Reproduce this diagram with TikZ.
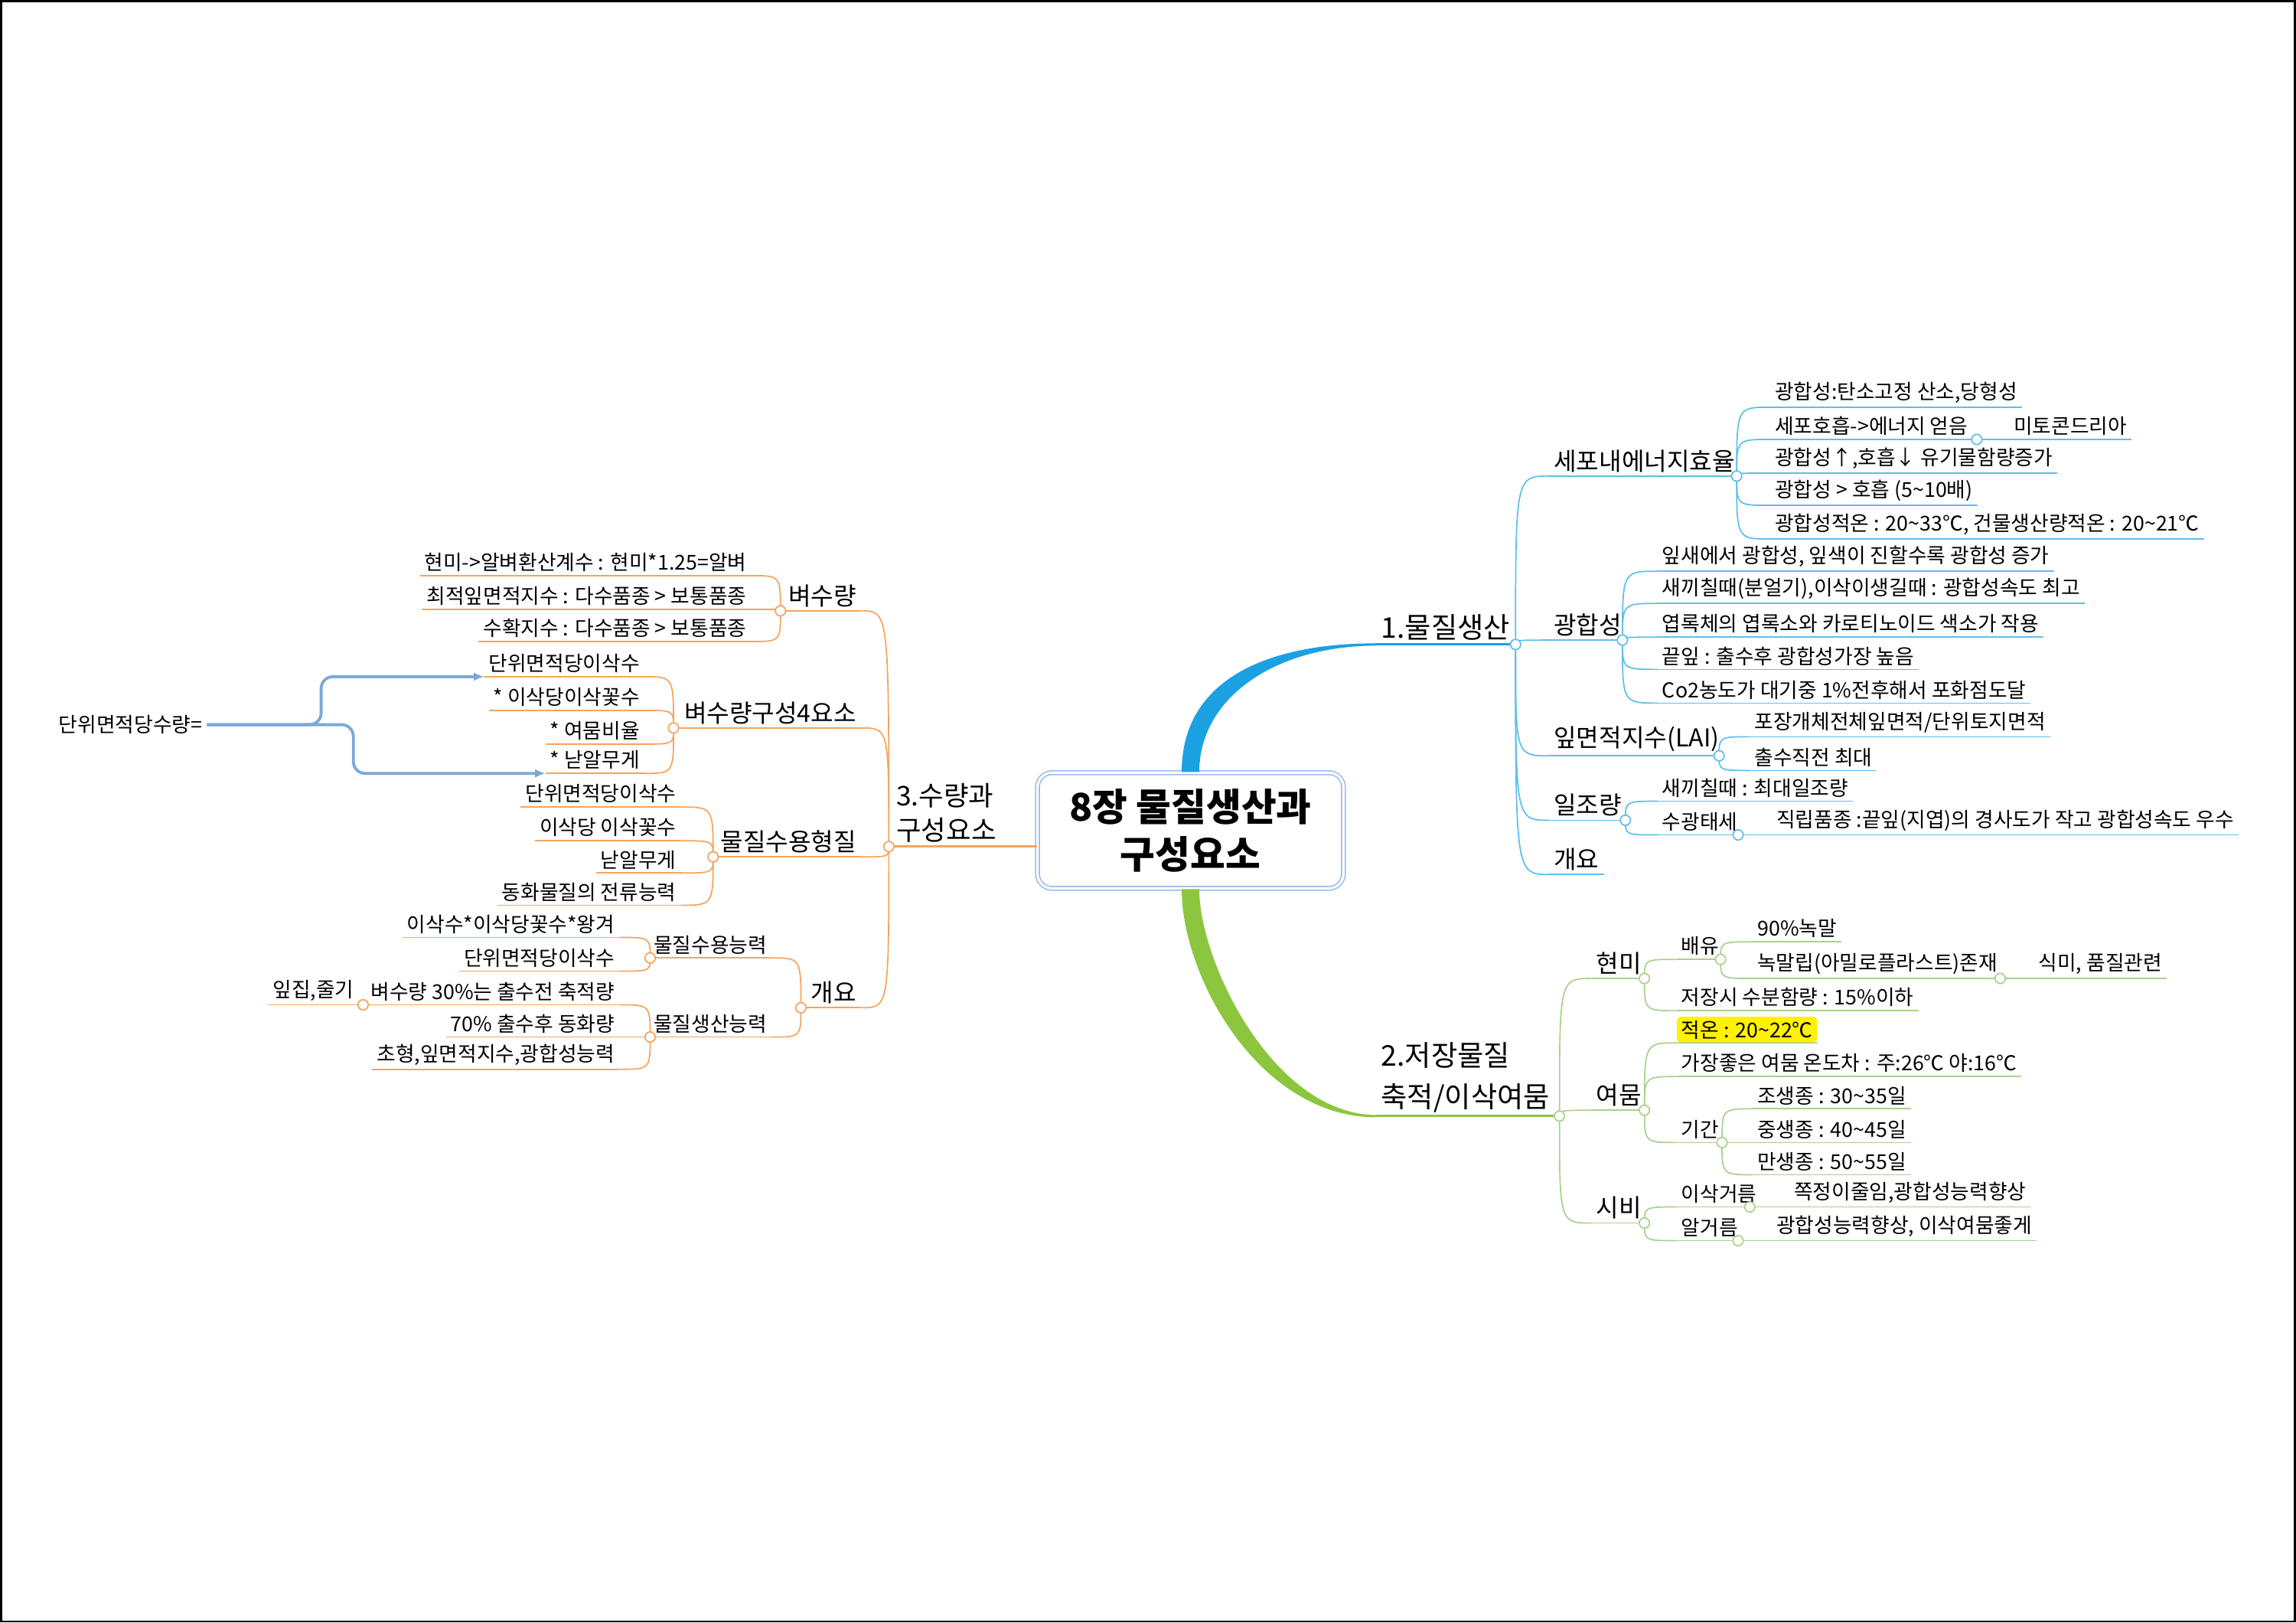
\documentclass[tikz,border=0pt]{standalone}
\usepackage{fontspec}
\setmainfont{Noto Sans CJK KR}
\usetikzlibrary{calc,arrows.meta}
\definecolor{blueA}{HTML}{1BA1E2}
\definecolor{blueL}{HTML}{5DBFEA}
\definecolor{greenA}{HTML}{8CC63F}
\definecolor{greenL}{HTML}{A9D18E}
\definecolor{orangeL}{HTML}{F5A45D}
\definecolor{arrowB}{HTML}{7DA7D9}
\definecolor{frameB}{HTML}{9CBFE8}
\tikzset{
  leaf/.style={font=\fontsize{14}{16}\selectfont, inner xsep=3pt, inner ysep=2.5pt},
  topic/.style={font=\fontsize{16.8}{19}\selectfont, inner xsep=3pt, inner ysep=2.5pt},
  mainbr/.style={font=\fontsize{19.5}{28}\selectfont, align=left, inner xsep=3pt, inner ysep=2.5pt},
  centre/.style={draw=frameB, double=white, double distance=1.6pt, line width=0.9pt,
    rounded corners=10pt, fill=white, minimum width=209, minimum height=79,
    align=center, font=\fontsize{26}{32}\selectfont\bfseries},
  bline/.style={blueL, line width=0.9pt},
  gline/.style={greenL, line width=0.9pt},
  oline/.style={orangeL, line width=0.9pt},
  dot/.style={circle, fill=white, line width=0.9pt, inner sep=0pt, minimum size=7pt}
}
% #1 node style, #2 line style, #3 dot, #4 x, #5 list
\newcommand\leavesR[5]{%
  \foreach \n/\y/\t in {#5} {
    \node[#1,anchor=south west] (\n) at (#4,\y) {\t};
    \draw[#2] (#3) .. controls (#3 |- \n.south west) .. (\n.south west);
    \draw[#2] (\n.south west) -- (\n.south east);
  }}
\newcommand\leavesL[5]{%
  \foreach \n/\y/\t in {#5} {
    \node[#1,anchor=south east] (\n) at (#4,\y) {\t};
    \draw[#2] (#3) .. controls (#3 |- \n.south east) .. (\n.south east);
    \draw[#2] (\n.south west) -- (\n.south east);
  }}
\begin{document}
\begin{tikzpicture}[x=1pt,y=-1pt]
  \useasboundingbox (0,0) rectangle (1568,1108);
  \draw[line width=1.5pt] (1,1) rectangle (1567,1107);

  \node[centre] (c) at (813,567) {8장 물질생산과\\구성요소};

  % 1.물질생산
  \node[mainbr,anchor=south west] (b1) at (940,440) {1.물질생산};
  \coordinate (d1) at (1035,440);
  \fill[blueA] ($(c.north)+(-6,0)$) .. controls +(0,-60) and +(-80,0) .. ($(b1.south west)+(0,-0.8)$)
    -- ($(b1.south west)+(0,0.8)$) .. controls +(-70,0) and +(0,-50) .. ($(c.north)+(6,0)$) -- cycle;
  \draw[blueA, line width=1.6pt] (b1.south west) -- (d1);
  \leavesR{topic}{bline}{d1}{1058}{t11/325/세포내에너지효율, t12/437/광합성, t13/516/잎면적지수(LAI), t14/560/일조량, t15/597/개요}
  \coordinate (d11) at (1186,325);
  \coordinate (d12) at (1108,437);
  \coordinate (d13) at (1174,516);
  \coordinate (d14) at (1110,560);
  \draw[bline] (t11.south west) -- (d11);
  \draw[bline] (t12.south west) -- (d12);
  \draw[bline] (t13.south west) -- (d13);
  \draw[bline] (t14.south west) -- (d14);
  \leavesR{leaf}{bline}{d11}{1209}{s1/278/{광합성:탄소고정 산소,당형성}, s2/300/세포호흡->에너지 얻음,
    s3/323/{광합성↑,호흡↓ 유기물함량증가}, s4/345/광합성 > 호흡 (5\textasciitilde10배),
    s5/368/{광합성적온 : 20\textasciitilde33℃, 건물생산량적온 : 20\textasciitilde21℃}}
  \coordinate (d112) at (1350,300);
  \draw[bline] (s2.south west) -- (d112);
  \leavesR{leaf}{bline}{d112}{1372}{s6/300/미토콘드리아}
  \leavesR{leaf}{bline}{d12}{1132}{p1/390/{잎새에서 광합성, 잎색이 진할수록 광합성 증가},
    p2/412/{새끼칠때(분얼기),이삭이생길때 : 광합성속도 최고}, p3/435/엽록체의 엽록소와 카로티노이드 색소가 작용,
    p4/457/끝잎 : 출수후 광합성가장 높음, p5/480/Co2농도가 대기중 1\%전후해서 포화점도달}
  \leavesR{leaf}{bline}{d13}{1195}{a1/503/{포장개체전체잎면적/단위토지면적}, a2/526/출수직전 최대}
  \leavesR{leaf}{bline}{d14}{1132}{i1/547/새끼칠때 : 최대일조량, i2/570/수광태세}
  \coordinate (d142) at (1187,570);
  \draw[bline] (i2.south west) -- (d142);
  \leavesR{leaf}{bline}{d142}{1210}{i3/570/직립품종 :끝잎(지엽)의 경사도가 작고 광합성속도 우수}

  % 2.저장물질
  \node[mainbr,anchor=south west] (b2) at (940,762) {2.저장물질\\축적/이삭여뭄};
  \coordinate (d2) at (1065,762);
  \fill[greenA] ($(c.south)+(-6,0)$) .. controls +(0,60) and +(-80,0) .. ($(b2.south west)+(0,0.8)$)
    -- ($(b2.south west)+(0,-0.8)$) .. controls +(-70,0) and +(0,50) .. ($(c.south)+(6,0)$) -- cycle;
  \draw[greenA, line width=1.6pt] (b2.south west) -- (d2);
  \leavesR{topic}{gline}{d2}{1087}{t21/668/현미, t22/758/여뭄, t23/835/시비}
  \coordinate (d21) at (1123,668);
  \coordinate (d22) at (1123,758);
  \coordinate (d23) at (1123,835);
  \draw[gline] (t21.south west) -- (d21);
  \draw[gline] (t22.south west) -- (d22);
  \draw[gline] (t23.south west) -- (d23);
  \leavesR{leaf}{gline}{d21}{1145}{h1/655/배유, h2/690/저장시 수분함량 : 15\%이하}
  \coordinate (d211) at (1175,655);
  \draw[gline] (h1.south west) -- (d211);
  \leavesR{leaf}{gline}{d211}{1197}{h3/643/90\%녹말, h4/668/녹말립(아밀로플라스트)존재}
  \coordinate (d214) at (1366,668);
  \draw[gline] (h4.south west) -- (d214);
  \leavesR{leaf}{gline}{d214}{1389}{h5/668/{식미, 품질관련}}
  \node[leaf,anchor=south west,fill=yellow,rounded corners=3pt] (y1) at (1145,712) {적온 : 20\textasciitilde22℃};
  \draw[gline] (d22) .. controls (d22 |- y1.south west) .. (y1.south west) -- (y1.south east);
  \leavesR{leaf}{gline}{d22}{1145}{y2/735/{가장좋은 여뭄 온도차 : 주:26℃ 야:16℃}, y3/780/기간}
  \coordinate (d223) at (1176,780);
  \draw[gline] (y3.south west) -- (d223);
  \leavesR{leaf}{gline}{d223}{1197}{g1/757/조생종 : 30\textasciitilde35일, g2/780/중생종 : 40\textasciitilde45일, g3/802/만생종 : 50\textasciitilde55일}
  \leavesR{leaf}{gline}{d23}{1145}{f1/824/이삭거름, f2/847/알거름}
  \coordinate (d231) at (1195,824);
  \coordinate (d232) at (1187,847);
  \draw[gline] (f1.south west) -- (d231);
  \draw[gline] (f2.south west) -- (d232);
  \leavesR{leaf}{gline}{d231}{1222}{f3/824/{쪽정이줄임,광합성능력향상}}
  \leavesR{leaf}{gline}{d232}{1210}{f4/847/{광합성능력향상, 이삭여뭄좋게}}

  % 3.수량과 구성요소
  \coordinate (d3) at (607,578);
  \node[mainbr,anchor=south west,font=\fontsize{18.5}{24}\selectfont] (b3) at (609,578) {3.수량과\\구성요소};
  \draw[orangeL, line width=1.6pt] (d3) -- (c.west |- d3);
  \leavesL{topic}{oline}{d3}{588}{t31/417/벼수량, t32/497/벼수량구성4요소, t33/585/물질수용형질, t34/688/개요}
  \coordinate (d31) at (533,417);
  \coordinate (d32) at (460,497);
  \coordinate (d33) at (487,585);
  \coordinate (d34) at (547,688);
  \draw[oline] (d31) -- (t31.south east);
  \draw[oline] (d32) -- (t32.south east);
  \draw[oline] (d33) -- (t33.south east);
  \draw[oline] (d34) -- (t34.south east);
  \leavesL{leaf}{oline}{d31}{513}{r1/393/현미->알벼환산계수 : 현미*1.25=알벼,
    r2/416/최적잎면적지수 : 다수품종 > 보통품종, r3/438/수확지수 : 다수품종 > 보통품종}
  \leavesL{leaf}{oline}{d32}{440}{q1/462/단위면적당이삭수, q2/485/* 이삭당이삭꽃수, q3/508/* 여뭄비율, q4/528/* 낟알무게}
  \leavesL{leaf}{oline}{d33}{465}{m1/551/단위면적당이삭수, m2/574/이삭당 이삭꽃수, m3/596/낟알무게, m4/618/동화물질의 전류능력}
  \leavesL{leaf}{oline}{d34}{527}{k1/654/물질수용능력, k2/708/물질생산능력}
  \coordinate (d341) at (444,654);
  \coordinate (d342) at (444,708);
  \draw[oline] (d341) -- (k1.south east);
  \draw[oline] (d342) -- (k2.south east);
  \leavesL{leaf}{oline}{d341}{423}{n1/640/이삭수*이삭당꽃수*왕겨, n2/663/단위면적당이삭수}
  \leavesL{leaf}{oline}{d342}{423}{n3/686/벼수량 30\%는 출수전 축적량, n4/708/70\% 출수후 동화량,
    n5/730/{초형,잎면적지수,광합성능력}}
  \coordinate (d343) at (248,686);
  \draw[oline] (d343) -- (n3.south west);
  \leavesL{leaf}{oline}{d343}{245}{n6/686/{잎집,줄기}}

  % 단위면적당수량
  \node[leaf,anchor=base west] (u) at (37,500) {단위면적당수량=};
  \draw[arrowB, line width=2pt, rounded corners=8pt, -{Latex[length=7pt,width=6pt]}] (u.east) -- ++(78,0) |- (q1.south west);
  \draw[arrowB, line width=2pt, rounded corners=8pt, -{Latex[length=7pt,width=6pt]}] (u.east) -- ++(100,0) |- (q4.south west);

  \foreach \d/\cl in {d1/blueL, d11/blueL, d112/blueL, d12/blueL, d13/blueL, d14/blueL, d142/blueL,
      d2/greenL, d21/greenL, d211/greenL, d214/greenL, d22/greenL, d223/greenL, d23/greenL, d231/greenL, d232/greenL,
      d3/orangeL, d31/orangeL, d32/orangeL, d33/orangeL, d34/orangeL, d341/orangeL, d342/orangeL, d343/orangeL}
    \node[dot, draw=\cl] at (\d) {};
\end{tikzpicture}
\end{document}
